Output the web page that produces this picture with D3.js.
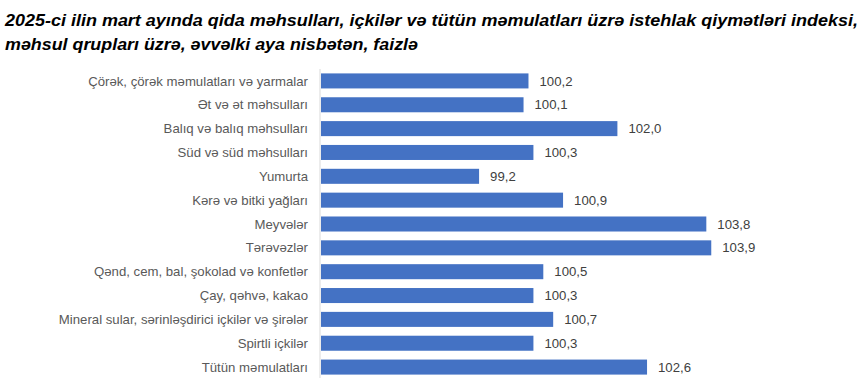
<!DOCTYPE html>
<html>
<head>
<meta charset="utf-8">
<script src="https://cdn.jsdelivr.net/npm/d3@7"></script>
<style>
  body { margin: 0; background: #fff; }
  .title { font-family: "Liberation Sans", Arial, sans-serif; font-weight: bold; font-style: italic; font-size: 17px; fill: #000; }
  .cat { font-family: "Liberation Sans", Arial, sans-serif; font-size: 13.2px; fill: #595959; }
  .val { font-family: "Liberation Sans", Arial, sans-serif; font-size: 13.2px; fill: #404040; }
</style>
</head>
<body>
<div id="wrapper"></div>
<script>
// Chart data
const categories = [
    "Çörək, çörək məmulatları və yarmalar",
    "Ət və ət məhsulları",
    "Balıq və balıq məhsulları",
    "Süd və süd məhsulları",
    "Yumurta",
    "Kərə və bitki yağları",
    "Meyvələr",
    "Tərəvəzlər",
    "Qənd, cem, bal, şokolad və konfetlər",
    "Çay, qəhvə, kakao",
    "Mineral sular, sərinləşdirici içkilər və şirələr",
    "Spirtli içkilər",
    "Tütün məmulatları"
]
const values = [100.2, 100.1, 102.0, 100.3, 99.2, 100.9, 103.8, 103.9, 100.5, 100.3, 100.7, 100.3, 102.6]
const titleLines = [
    "2025-ci ilin mart ayında qida məhsulları, içkilər və tütün məmulatları üzrə istehlak qiymətləri indeksi,",
    "məhsul qrupları üzrə, əvvəlki aya nisbətən, faizlə"
]
// measured widths of the title lines (narrow font in the original)
const titleWidths = [853, 413]

const dimensions = {
    width: 866,
    height: 378,
    margin: { top: 69, right: 51, bottom: 0, left: 321 },
}
dimensions.boundedWidth = dimensions.width - dimensions.margin.left - dimensions.margin.right
dimensions.boundedHeight = 310

const svg = d3.select("#wrapper")
    .append("svg")
    .attr("width", dimensions.width)
    .attr("height", dimensions.height)

// Title, squeezed to the narrow width of the original
svg.selectAll(".title")
    .data(titleLines)
    .join("text")
    .attr("class", "title")
    .attr("x", 5)
    .attr("y", (d, i) => 26 + i * 24)
    .attr("textLength", (d, i) => titleWidths[i])
    .attr("lengthAdjust", "spacingAndGlyphs")
    .text(d => d)

const bounds = svg.append("g")
    .attr("transform", `translate(${dimensions.margin.left},${dimensions.margin.top})`)

const xScale = d3.scaleLinear()
    .domain([96, 106])
    .range([0, 494])

const yScale = d3.scaleBand()
    .domain(categories)
    .range([0, dimensions.boundedHeight])
    .paddingInner(0.37)
    .paddingOuter(0.185)

// Bars
bounds.selectAll("rect")
    .data(values)
    .join("rect")
    .attr("x", 0)
    .attr("y", (d, i) => yScale(categories[i]))
    .attr("width", d => xScale(d))
    .attr("height", yScale.bandwidth())
    .attr("fill", "#4472c4")

// Vertical axis line
bounds.append("line")
    .attr("x1", -1).attr("x2", -1)
    .attr("y1", 0).attr("y2", dimensions.boundedHeight)
    .attr("stroke", "#d9d9d9")
    .attr("stroke-width", 1)

// Category labels
bounds.selectAll(".cat")
    .data(categories)
    .join("text")
    .attr("class", "cat")
    .attr("x", -13)
    .attr("y", d => yScale(d) + yScale.bandwidth() / 2)
    .attr("dy", "0.35em")
    .attr("text-anchor", "end")
    .text(d => d)

// Value labels
bounds.selectAll(".val")
    .data(values)
    .join("text")
    .attr("class", "val")
    .attr("x", d => xScale(d) + 11)
    .attr("y", (d, i) => yScale(categories[i]) + yScale.bandwidth() / 2)
    .attr("dy", "0.35em")
    .text(d => d.toFixed(1).replace(".", ","))
</script>
</body>
</html>
